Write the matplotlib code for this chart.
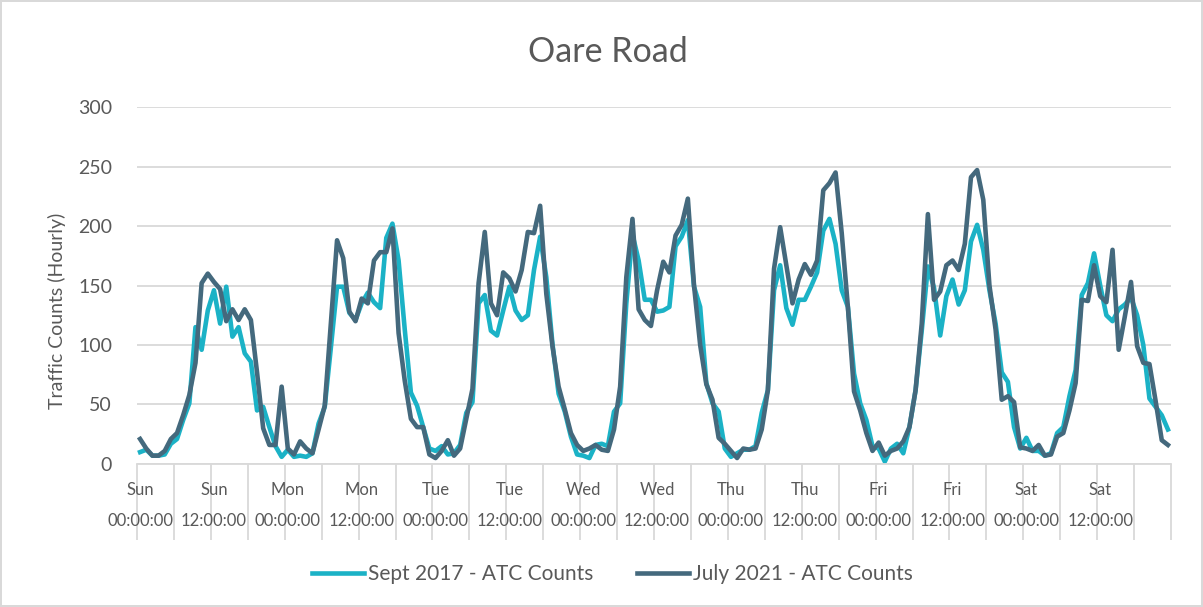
import numpy as np
import matplotlib.pyplot as plt

day_names = ['Sun', 'Mon', 'Tue', 'Wed', 'Thu', 'Fri', 'Sat']
times = ['00:00:00', '12:00:00']

# hourly counts, Sun 00:00 -> Sat 23:00
sept_2017 = [
    10, 12, 7, 7, 8, 17, 21, 37, 51, 115, 96, 129, 146, 118, 149, 107, 115, 93, 86, 45, 48, 31, 15, 6,
    12, 6, 7, 6, 9, 34, 48, 98, 149, 149, 127, 121, 135, 144, 136, 131, 190, 202, 171, 113, 60, 49, 31, 13,
    11, 15, 8, 9, 16, 43, 52, 135, 142, 112, 108, 129, 149, 129, 121, 125, 163, 191, 157, 101, 59, 44, 23, 8,
    7, 5, 16, 17, 15, 44, 51, 135, 193, 171, 138, 138, 128, 129, 132, 183, 191, 205, 149, 132, 68, 51, 44, 13,
    6, 9, 12, 12, 15, 43, 62, 146, 167, 131, 117, 138, 138, 149, 161, 196, 206, 185, 146, 132, 76, 51, 37, 15,
    13, 2, 13, 17, 9, 31, 62, 112, 166, 148, 108, 141, 155, 134, 146, 187, 201, 180, 146, 118, 77, 69, 31, 13,
    22, 11, 11, 7, 9, 26, 31, 57, 79, 142, 152, 177, 150, 125, 120, 130, 134, 140, 125, 100, 55, 48, 41, 29,
]
july_2021 = [
    21, 13, 7, 7, 11, 21, 26, 41, 58, 85, 152, 160, 153, 147, 120, 130, 121, 130, 121, 77, 30, 16, 16, 65,
    13, 8, 19, 13, 9, 29, 49, 118, 188, 173, 128, 120, 139, 135, 171, 178, 178, 198, 110, 70, 38, 31, 31, 8,
    5, 11, 20, 7, 13, 38, 63, 152, 195, 135, 125, 161, 156, 145, 163, 195, 194, 217, 143, 99, 65, 46, 26, 16,
    11, 13, 16, 12, 11, 29, 65, 157, 206, 130, 121, 116, 146, 170, 161, 192, 201, 223, 150, 100, 67, 54, 22, 17,
    11, 5, 13, 12, 13, 29, 62, 164, 199, 167, 135, 155, 168, 159, 171, 230, 236, 245, 194, 132, 61, 45, 26, 11,
    18, 7, 11, 13, 19, 31, 62, 118, 210, 138, 145, 167, 171, 163, 185, 241, 247, 222, 150, 113, 54, 57, 52, 14,
    13, 11, 16, 7, 8, 23, 26, 45, 68, 138, 137, 167, 141, 136, 180, 96, 124, 153, 99, 85, 84, 53, 20, 16,
]

hours = np.arange(len(sept_2017))
tick_labels = [d + '\n' + t for d in day_names for t in times]

txt = '#595959'
grid = '#d9d9d9'
plt.rcParams['font.family'] = ['Lato', 'DejaVu Sans']

fig = plt.figure(figsize=(12.03, 6.07), dpi=100)
fig.patch.set_edgecolor(grid)
fig.patch.set_linewidth(1.5)
ax = fig.add_axes([0.1139, 0.2356, 0.8595, 0.5881])

ax.plot(hours, sept_2017, color='#1bb2c6', lw=3.3, label='Sept 2017 - ATC Counts')
ax.plot(hours, july_2021, color='#44697d', lw=3.3, label='July 2021 - ATC Counts')

ax.set_xlim(-0.5, len(hours) - 0.5)
ax.set_ylim(0, 300)
ax.set_yticks(range(0, 301, 50))
ax.grid(axis='y', color=grid, lw=1.3)
ax.set_axisbelow(True)
for s in ['top', 'right', 'left']:
    ax.spines[s].set_visible(False)
ax.spines['bottom'].set_color(grid)
ax.spines['bottom'].set_linewidth(1.3)

ax.set_xticks(np.arange(-0.5, len(hours), 6))
ax.set_xticklabels([])
ax.tick_params(axis='x', which='major', length=55, width=1.3, color=grid, direction='out')
ax.set_xticks(np.arange(0, len(hours), 12), minor=True)
ax.set_xticklabels(tick_labels, minor=True, linespacing=2.15)
ax.tick_params(axis='x', which='minor', length=0, pad=13, labelsize=12, labelcolor=txt)
ax.tick_params(axis='y', length=0, pad=18, labelsize=14, labelcolor=txt)

fig.text(0.505, 0.914, 'Oare Road', ha='center', va='center', fontsize=24.5, color=txt)
fig.text(0.047, 1 - 311 / 607, 'Traffic Counts (Hourly)', ha='center', va='center',
         rotation=90, fontsize=14, color=txt)

leg = fig.legend(loc='center', bbox_to_anchor=(0.509, 0.0544), ncol=2, frameon=False,
                 fontsize=15, handlelength=2.5, handletextpad=0.2, columnspacing=2.1)
for t in leg.get_texts():
    t.set_color(txt)

plt.savefig('out.png', dpi=100)
